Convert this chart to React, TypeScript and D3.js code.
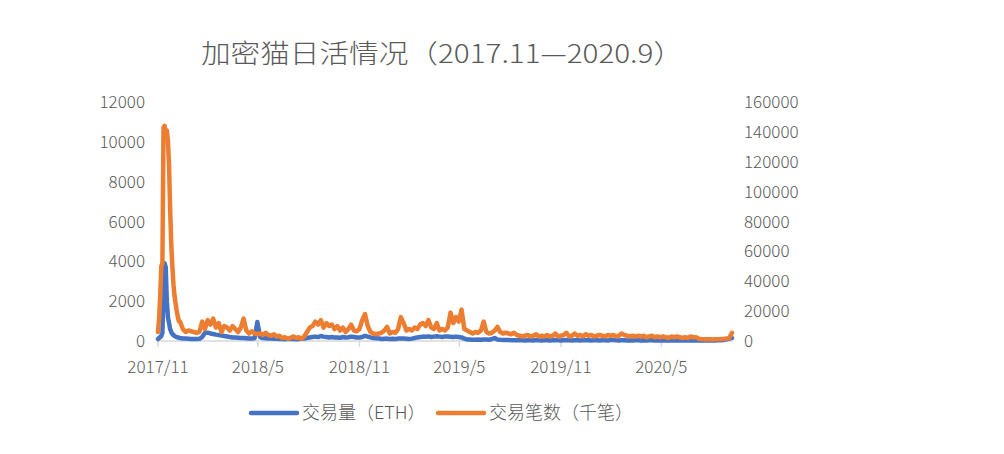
import React from "react";
import * as d3 from "d3";

// 2017/11/28 launch; first 40 days every 2 days, then every 5 days
const startDate = new Date(2017, 10, 28);
const earlyDays = d3.range(0, 40, 2);
const lateDays = d3.range(201).map((k) => 40 + 5 * k);

const ethEarly = [100, 150, 200, 250, 400, 2500, 3900, 3700, 2000, 1200, 900, 600, 450, 350, 300, 250, 220, 200, 180, 160];
const txEarly = [6000, 15000, 30000, 50000, 52000, 143000, 144000, 138000, 141000, 134000, 118000, 88000, 65000, 50000, 38000, 30000, 25000, 20000, 16000, 13000];

const ethLate = [
  150, 130, 120, 110, 100, 100, 100, 110,
  200, 400, 420, 380, 350, 320, 300, 280, 250, 230, 200,
  180, 170, 160, 150, 150, 140, 130, 130, 140, 950,
  200, 150, 140, 130, 120, 110, 120, 100,
  100, 90, 100, 110, 100, 90, 100, 110, 120,
  150, 180, 200, 220, 200, 250, 220, 200, 180, 200, 170, 180, 160,
  200, 180, 190, 220, 200, 180, 170, 200, 260, 220, 180,
  150, 140, 130,
  100, 110, 120, 100, 110, 100, 120, 130, 120, 110,
  100, 120, 150, 180, 200, 220, 210, 230, 200, 220,
  240, 220, 200, 230, 220, 210, 200, 220, 200, 180,
  120, 80, 70, 60, 60, 70, 60, 80, 70, 60,
  100, 150, 80, 60, 50, 50, 50, 40, 40, 40,
  40, 35, 30, 40, 35, 30, 45, 35, 30, 40,
  35, 30, 40, 45, 35, 30, 40, 50, 35, 30,
  40, 35, 30, 45, 40, 35, 30, 40, 35, 30,
  40, 35, 30, 45, 50, 35, 30, 40, 35, 30,
  35, 30, 40, 35, 30, 35, 30, 40, 35, 30,
  30, 35, 30, 25, 30, 35, 30, 25, 30, 30,
  25, 30, 30, 25, 30,
  30, 25, 30, 30, 25, 30, 30, 35, 40, 50, 80, 120, 150,
];

const txLate = [
  13000, 8000, 6000, 7000, 6500, 6000, 5500, 6000,
  13000, 8000, 14000, 11000, 15000, 9000, 12000, 6000, 10000, 9000, 7000,
  10000, 8000, 6000, 9000, 15000, 7000, 5000, 6500, 5000, 4500,
  5000, 4000, 5500, 4000, 3500, 4500, 3000, 3500,
  2000, 2500, 1500, 2000, 3000, 2000, 2500, 1500, 3000,
  6000, 9000, 10000, 13000, 11000, 14000, 9000, 12000, 10000, 11000, 8000, 10000, 7000,
  9000, 6000, 8000, 11000, 7000, 6500, 8000, 14000, 18000, 10000, 6000,
  5000, 4500, 5000,
  5500, 7000, 9500, 5000, 6000, 5500, 8000, 16000, 12000, 7000,
  8000, 7000, 9000, 8000, 11000, 12000, 10000, 14000, 9000, 8000,
  12000, 7000, 8000, 7000, 9000, 19000, 12000, 16000, 13000, 21000,
  8000, 7000, 6000, 5000, 6000, 5500, 7000, 13000, 6000, 5000,
  5500, 7000, 9500, 6000, 5000, 5500, 5000, 4500, 5500, 4000,
  3500, 3000, 3500, 4000, 3000, 3500, 4500, 3000, 3500, 3000,
  4000, 3000, 3500, 5000, 3000, 3500, 4000, 5500, 3000, 3500,
  5000, 3500, 4000, 3000, 4500, 3500, 4000, 3000, 3500, 4000,
  3500, 3000, 4000, 3500, 4000, 3000, 3500, 5000, 4000, 3500,
  3000, 3500, 3000, 3500, 3000, 3500, 2500, 3000, 3500, 2500,
  3000, 2500, 3000, 2500, 2000, 3000, 2500, 3000, 2500, 2000,
  2500, 2000, 3000, 2500, 2500,
  1500, 1300, 1200, 1200, 1100, 1000, 1100, 1200, 1300, 1400, 1600, 2000, 5500,
];

const leftTicks = [0, 2000, 4000, 6000, 8000, 10000, 12000];
const rightTicks = [0, 20000, 40000, 60000, 80000, 100000, 120000, 140000, 160000];
const xTickLabels = ["2017/11", "2018/5", "2018/11", "2019/5", "2019/11", "2020/5"];

const title = "加密猫日活情况（2017.11—2020.9）";
const seriesNames = ["交易量（ETH）", "交易笔数（千笔）"];
const colors = ["#4472C4", "#ED7D31"];

const W = 1004;
const H = 454;
const plot = { l: 158, r: 732, t: 102, b: 341 };
const font = "'Noto Sans CJK SC', 'DejaVu Sans', sans-serif";
const textColor = "#595959";

export default function App() {
  const days = [...earlyDays, ...lateDays];
  const dates = days.map((d) => d3.timeDay.offset(startDate, d));
  const eth = [...ethEarly, ...ethLate];
  const tx = [...txEarly, ...txLate];

  const x = d3
    .scaleTime()
    .domain([startDate, d3.timeDay.offset(startDate, 1040)])
    .range([plot.l, plot.r]);
  const yL = d3.scaleLinear().domain([0, 12000]).range([plot.b, plot.t]);
  const yR = d3.scaleLinear().domain([0, 160000]).range([plot.b, plot.t]);

  const tickDates = xTickLabels.map((_, i) => d3.timeMonth.offset(startDate, i * 6));

  const ethLine = d3
    .line<number>()
    .x((_, i) => x(dates[i]))
    .y((d) => yL(d))(eth);
  const txLine = d3
    .line<number>()
    .x((_, i) => x(dates[i]))
    .y((d) => yR(d))(tx);

  return (
    <svg
      width={W}
      height={H}
      style={{ position: "absolute", left: 0, top: 0, background: "#fff" }}
      fontFamily={font}
      fontWeight={300}
    >
      <rect width={W} height={H} fill="#fff" />
      <text x={442} y={63} textAnchor="middle" fontSize={26} fill={textColor} textLength={482} lengthAdjust="spacingAndGlyphs">
        {title}
      </text>

      {/* left axis labels */}
      {leftTicks.map((t) => (
        <text key={"l" + t} x={145} y={yL(t)} dy="0.36em" textAnchor="end" fontSize={17} fill={textColor}>
          {t}
        </text>
      ))}
      {/* right axis labels */}
      {rightTicks.map((t) => (
        <text key={"r" + t} x={744} y={yR(t)} dy="0.36em" textAnchor="start" fontSize={17} fill={textColor}>
          {t}
        </text>
      ))}

      {/* x axis */}
      <line x1={plot.l} x2={plot.r} y1={plot.b} y2={plot.b} stroke="#D9D9D9" strokeWidth={1.5} />
      {tickDates.map((d, i) => (
        <g key={"x" + i}>
          <line x1={x(d)} x2={x(d)} y1={plot.b} y2={plot.b + 6} stroke="#D9D9D9" strokeWidth={1.5} />
          <text x={x(d)} y={373} textAnchor="middle" fontSize={17} fill={textColor}>
            {xTickLabels[i]}
          </text>
        </g>
      ))}

      {/* series */}
      <path d={ethLine ?? ""} fill="none" stroke={colors[0]} strokeWidth={4.5} strokeLinejoin="round" strokeLinecap="round" />
      <path d={txLine ?? ""} fill="none" stroke={colors[1]} strokeWidth={4.5} strokeLinejoin="round" strokeLinecap="round" />

      {/* legend */}
      <line x1={251} x2={297} y1={413} y2={413} stroke={colors[0]} strokeWidth={4.5} strokeLinecap="round" />
      <text x={302} y={419} fontSize={18} fill={textColor}>{seriesNames[0]}</text>
      <line x1={438} x2={484} y1={413} y2={413} stroke={colors[1]} strokeWidth={4.5} strokeLinecap="round" />
      <text x={489} y={419} fontSize={18} fill={textColor}>{seriesNames[1]}</text>
    </svg>
  );
}
